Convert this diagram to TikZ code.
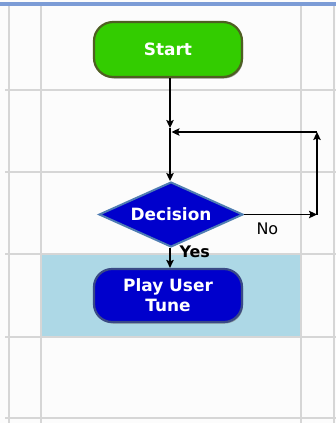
\documentclass[tikz,border=0pt]{standalone}
\usepackage{fontspec}
\setmainfont{DejaVu Sans}
\usetikzlibrary{arrows.meta,shapes.geometric,shadows}
\definecolor{pagebg}{HTML}{FCFCFC}
\definecolor{gridline}{HTML}{D6D6D6}
\definecolor{topbar}{HTML}{7C9CD6}
\definecolor{lanefill}{HTML}{ADD8E6}
\definecolor{startfill}{HTML}{33CC00}
\definecolor{startedge}{HTML}{4E5F22}
\definecolor{actfill}{HTML}{0000CC}
\definecolor{actedge}{HTML}{3A4A86}
\definecolor{decedge}{HTML}{4F7DB3}
\tikzset{
  gridrule/.style={draw=gridline, line width=1.8bp},
  flow/.style={draw=black, line width=1.4bp, -{Stealth[length=8bp,width=7.5bp,inset=1.5bp]}},
  boxtext/.style={text=white, font=\fontsize{17}{20}\selectfont\bfseries, align=center},
  terminal/.style={boxtext, rectangle, rounded corners=19bp, fill=startfill, draw=startedge,
    line width=2.2bp, minimum width=148bp, minimum height=55bp, inner sep=0pt,
    drop shadow={shadow xshift=1bp, shadow yshift=-1.5bp, fill=black!55, opacity=0.7}},
  action/.style={boxtext, rectangle, rounded corners=18bp, fill=actfill, draw=actedge,
    line width=2.2bp, minimum width=148bp, minimum height=53bp, inner sep=0pt,
    drop shadow={shadow xshift=1bp, shadow yshift=-1.5bp, fill=black!55, opacity=0.7}},
  choice/.style={boxtext, diamond, shape aspect=2.2, fill=actfill, draw=decedge,
    line width=2bp, minimum width=144bp, minimum height=65bp, inner sep=0pt},
  edgelabel/.style={text=black, font=\fontsize{16}{18}\selectfont}
}
\begin{document}
\begin{tikzpicture}[x=1bp, y=-1bp]
  \useasboundingbox (0,0) rectangle (336,423);
  % page background and the swimlane band
  \fill[pagebg] (0,0) rectangle (336,423);
  \fill[topbar] (0,1.5) rectangle (336,6);
  \fill[lanefill] (41,254) rectangle (301,337);
  % grid
  \foreach \gx in {9,41,301,334} \draw[gridrule] (\gx,6) -- (\gx,423);
  \foreach \gy in {90,172,254,337,418} \draw[gridrule] (5,\gy) -- (336,\gy);

  % shapes
  \node[terminal] (start) at (168,49.5) {Start};
  \node[choice] (dec) at (171,214.5) {Decision};
  \node[action] (play) at (168,295.5) {Play User\\Tune};

  % routing points
  \coordinate (join) at (170,128);
  \coordinate (merge) at (171.5,132);
  \coordinate (rightlow) at (317,214.5);
  \coordinate (righttop) at (317,132);

  % connectors
  \draw[flow] (start.south -| join) -- (join);
  \draw[flow] (join) -- (dec.north -| join);
  \draw[flow] (dec.south -| join) -- (play.north -| join);
  \draw[flow] (dec.east) -- (rightlow);
  \draw[flow] (rightlow) -- (righttop);
  \draw[flow] (righttop) -- (merge);

  % branch labels
  \node[edgelabel, anchor=west] (nolabel) at (253,229) {No};
  \node[edgelabel, font=\fontsize{16}{18}\selectfont\bfseries, anchor=west] (yeslabel) at (176,251.5) {Yes};
\end{tikzpicture}
\end{document}
